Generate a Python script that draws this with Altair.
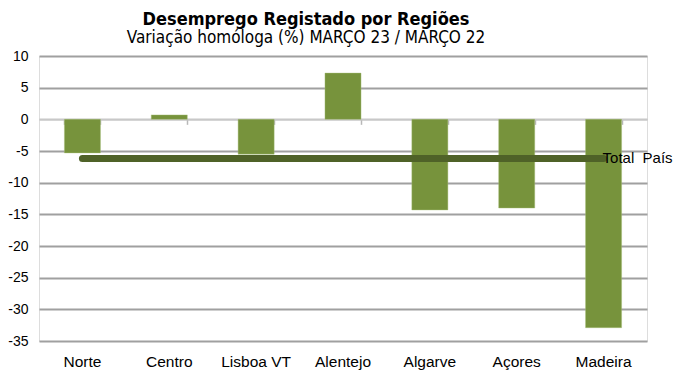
import altair as alt
import pandas as pd

regions = ["Norte", "Centro", "Lisboa VT", "Alentejo", "Algarve", "Açores", "Madeira"]
values = [-5.3, 0.7, -5.5, 7.3, -14.3, -14.0, -32.9]
total_pais = -6.2
total_label = "Total\u00a0 País"
y_ticks = [10, 5, 0, -5, -10, -15, -20, -25, -30, -35]

df = pd.DataFrame({"regiao": regions, "valor": values})
tot = pd.DataFrame({"start": [regions[0]], "end": [regions[-1]], "valor": [total_pais], "label": [total_label]})

BAR = "#77933C"
LINE = "#4F6228"
GRID = "#a0a0a0"
LABEL_FONT = "Liberation Sans, Arial, sans-serif"
TITLE_FONT = "DejaVu Sans Condensed, Liberation Sans Narrow, Roboto Condensed, sans-serif"

W, H = 608, 285
zero_offset = -H * (0 - (-35)) / 45.0

xscale = alt.Scale(domain=regions, paddingInner=0.585, paddingOuter=0.2925)
yscale = alt.Scale(domain=[-35, 10], nice=False, zero=False)

y_axis = alt.Axis(values=y_ticks, ticks=False, domain=False, labelFont=LABEL_FONT,
                  labelFontSize=14, labelColor="#000000", labelPadding=11,
                  labelExpr="toString(datum.value)",
                  labelOverlap=False, labelFlush=False, labelBound=False,
                  grid=True, gridWidth=2,
                  gridColor={"condition": {"test": "datum.value === 0", "value": "#c8c8c8"},
                             "value": GRID})

bars = alt.Chart(df).mark_bar(color=BAR, stroke="#a6bd78", strokeWidth=0.6, strokeOpacity=0.7).encode(
    x=alt.X("regiao:N", scale=xscale, sort=regions, title=None,
            axis=alt.Axis(orient="bottom", labelAngle=0, ticks=False, domain=False,
                          labelFont=LABEL_FONT, labelFontSize=15.5, labelColor="#000000",
                          labelPadding=13, labelOverlap=False)),
    y=alt.Y("valor:Q", scale=yscale, title=None, axis=y_axis),
    y2=alt.datum(0),
)

line = alt.Chart(tot).mark_rule(color=LINE, strokeWidth=7, strokeCap="round").encode(
    x=alt.X("start:N", scale=xscale, sort=regions, title=None,
            axis=alt.Axis(orient="bottom", offset=zero_offset, labels=False, ticks=True,
                          tickBand="extent", tickSize=5, tickColor="#b8b8b8", tickWidth=1.5,
                          domain=True, domainColor="#c8c8c8", domainWidth=1.5, grid=False)),
    x2="end:N",
    y=alt.Y("valor:Q", scale=yscale, title=None, axis=y_axis),
)

label = alt.Chart(tot).mark_text(align="left", baseline="middle", dx=-1, dy=-1,
                                 font=LABEL_FONT, fontSize=15, color="#000000").encode(
    x=alt.X("end:N", scale=xscale, sort=regions, axis=None),
    y=alt.Y("valor:Q", scale=yscale, title=None, axis=y_axis),
    text="label:N",
)

chart = alt.layer(bars, line, label).resolve_axis(x="independent").properties(
    width=W, height=H,
    autosize=alt.AutoSizeParams(type="none"),
    padding={"left": 31, "top": 48, "right": 26, "bottom": 31},
    title=alt.TitleParams(
        text="Desemprego Registado por Regiões",
        subtitle="Variação homóloga (%) MARÇO 23 / MARÇO 22",
        font=TITLE_FONT, fontSize=18, fontWeight="bold", color="#000000",
        subtitleFont=TITLE_FONT, subtitleFontSize=17, subtitleColor="#000000",
        subtitlePadding=1, anchor="middle", dx=-37, offset=3,
    ),
).configure_view(stroke=GRID, strokeWidth=2).configure(background="white")

chart.save("out.html", embed_options={"renderer": "svg", "actions": False})
